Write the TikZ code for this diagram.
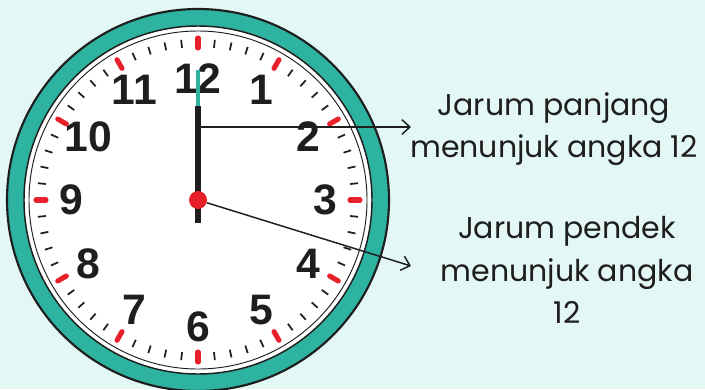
\documentclass[tikz,border=0pt]{standalone}
\usepackage{fontspec}
\setmainfont{Poppins}
\newfontfamily\digitfont{Liberation Sans}
\usetikzlibrary{arrows.meta}
\definecolor{bg}{HTML}{E3F7F5}
\definecolor{rim}{HTML}{2DB3A0}
\definecolor{tickred}{HTML}{E8202A}
\definecolor{ink}{HTML}{1E1E1E}
\tikzset{majtick/.style={tickred, line width=3.8pt, line cap=round},
         mintick/.style={ink, line width=1.3pt},
         numlbl/.style={font=\digitfont\bfseries\fontsize{32}{32}\selectfont, text=ink, inner sep=0pt},
         note/.style={font=\fontsize{22.5}{32}\selectfont, align=center, text=ink, inner sep=0pt},
         ptr/.style={-{Straight Barb[length=6pt, width=11pt, line width=1.1pt]}, line width=1.1pt, ink}}

\begin{document}
\begin{tikzpicture}[x=0.75pt, y=-0.75pt]
\useasboundingbox[fill=bg] (0,0) rectangle (705,389);
% clock body
\draw[ink, line width=1.6pt, fill=rim] (198,200) circle[radius=191];
\draw[ink, line width=1.1pt, fill=white] (198,200) circle[radius=174];
\draw[ink, line width=0.7pt] (198,200) circle[radius=169];
% ticks
\foreach \m in {0,...,59} {
  \pgfmathtruncatemacro\rem{mod(\m,5)}
  \ifnum\rem=0 \draw[majtick] ({198+152*sin(6*\m)},{200-152*cos(6*\m)}) -- ({198+162*sin(6*\m)},{200-162*cos(6*\m)});
  \else \draw[mintick] ({198+153*sin(6*\m)},{200-153*cos(6*\m)}) -- ({198+161*sin(6*\m)},{200-161*cos(6*\m)});
  \fi}
% numbers
\foreach \h in {1,...,11} {\node[numlbl] (n\h) at ({198+127*sin(30*\h)},{200-127*cos(30*\h)}) {\h};}
\node[numlbl] (n12) at (198,79) {12};
% hand
\draw[rim, line width=3pt] (198,70) -- (198,106);
\draw[ink, line width=3.8pt] (198,106) -- (198,223);
\node[circle, fill=tickred, minimum size=18*0.75pt, inner sep=0pt] (pin) at (198,200) {};
% labels
\node[note] (panjang) at (554,129) {Jarum panjang\\menunjuk angka 12};
\node[note] (pendek) at (567,270) {Jarum pendek\\menunjuk angka\\12};
\coordinate (handA) at (200,127);
\coordinate (tipA) at (411,127);
\coordinate (tipB) at (411,266);
\draw[ptr] (handA) -- (tipA);
\draw[ptr] (pin) -- (tipB);
\end{tikzpicture}
\end{document}
